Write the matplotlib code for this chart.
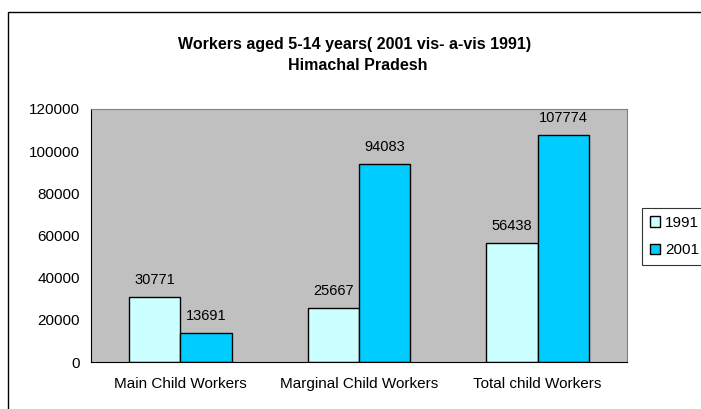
import numpy as np
import matplotlib.pyplot as plt
from matplotlib.patches import Rectangle

plt.rcParams['font.family'] = ['Liberation Sans', 'DejaVu Sans']

categories = ['Main Child Workers', 'Marginal Child Workers', 'Total child Workers']
years = ['1991', '2001']
workers_1991 = [30771, 25667, 56438]
workers_2001 = [13691, 94083, 107774]
yticks = [0, 20000, 40000, 60000, 80000, 100000, 120000]

W, H = 701, 409
fig = plt.figure(figsize=(W / 100, H / 100), dpi=100)

# outer chart border (runs off the right and bottom edges)
fig.patches.append(Rectangle((8 / W, -0.1), 1.2, 1.1 - 12 / H,
                             transform=fig.transFigure, fill=False,
                             edgecolor='black', linewidth=1.0))

ax = fig.add_axes([91 / W, (H - 362) / H, (627 - 91) / W, (362 - 109) / H])
ax.set_facecolor('#C0C0C0')

x = np.arange(len(categories))
w = 0.288
b1 = ax.bar(x - w / 2, workers_1991, w, color='#CCFFFF', edgecolor='black',
            linewidth=1.0, label=years[0])
b2 = ax.bar(x + w / 2, workers_2001, w, color='#00CCFF', edgecolor='black',
            linewidth=1.0, label=years[1])

for bars, vals in [(b1, workers_1991), (b2, workers_2001)]:
    for r, v in zip(bars, vals):
        ax.annotate(str(v), (r.get_x() + r.get_width() / 2, v),
                    xytext=(0, 7), textcoords='offset points',
                    ha='center', va='bottom', fontsize=10.5)

ax.set_xlim(-0.5, 2.5)
ax.set_ylim(0, 120000)
ax.set_yticks(yticks)
ax.set_yticklabels([str(t) for t in yticks], fontsize=11)
ax.set_xticks(x)
ax.set_xticklabels(categories, fontsize=11)
ax.tick_params(axis='both', length=0, pad=8)
ax.tick_params(axis='x', pad=11)
for s in ['left', 'bottom']:
    ax.spines[s].set_color('black')
for s in ['top', 'right']:
    ax.spines[s].set_color('#808080')

fig.text(355 / W, 1 - 44 / H, 'Workers aged 5-14 years( 2001 vis- a-vis 1991)',
         ha='center', va='center', fontsize=11.5, fontweight='bold')
fig.text(358 / W, 1 - 66 / H, 'Himachal Pradesh',
         ha='center', va='center', fontsize=11.5, fontweight='bold')

leg = fig.legend(loc='upper left', bbox_to_anchor=(642 / W, 1 - 208 / H),
                 fontsize=11, frameon=True, fancybox=False, edgecolor='black',
                 handlelength=0.7, handleheight=0.7, handletextpad=0.3,
                 borderpad=0.5, labelspacing=0.9, borderaxespad=0)
leg.get_frame().set_linewidth(0.8)

fig.savefig('out.png', dpi=100)
